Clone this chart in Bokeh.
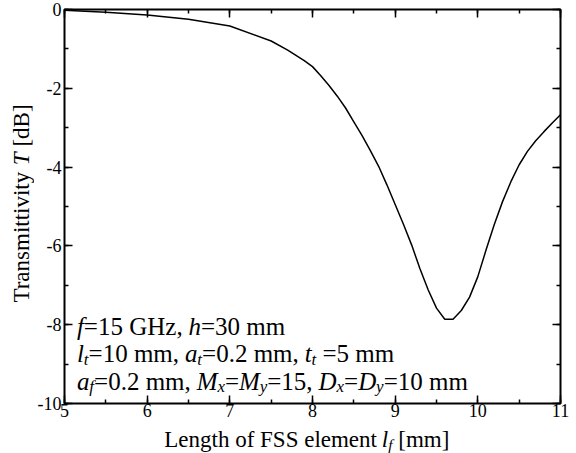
import math
from bokeh.plotting import figure
from bokeh.layouts import row, column
from bokeh.models import (Range1d, LinearAxis, SingleIntervalTicker, Label,
                          CustomJSTickFormatter)
from bokeh.embed import file_html
from bokeh.resources import INLINE

# ---- data ----
lf_mm = [5.0, 5.5, 6.0, 6.5, 7.0, 7.5, 7.7, 7.9, 8.0, 8.1, 8.2, 8.3, 8.4, 8.5,
         8.6, 8.7, 8.8, 8.9, 9.0, 9.1, 9.2, 9.3, 9.4, 9.5, 9.6, 9.7, 9.8, 9.9,
         10.0, 10.1, 10.2, 10.3, 10.4, 10.5, 10.6, 10.7, 10.8, 10.9, 11.0]
T_dB = [-0.02, -0.07, -0.14, -0.25, -0.42, -0.80, -1.03, -1.30, -1.45, -1.68,
        -1.93, -2.20, -2.50, -2.85, -3.20, -3.58, -3.98, -4.45, -4.95, -5.45,
        -5.98, -6.58, -7.12, -7.58, -7.86, -7.86, -7.64, -7.30, -6.78, -6.10,
        -5.45, -4.87, -4.37, -3.94, -3.60, -3.33, -3.10, -2.88, -2.67]

x_ticks = [5, 6, 7, 8, 9, 10, 11]
y_ticks = [-10, -8, -6, -4, -2, 0]

FONT = "Liberation Serif"

# ---- layout geometry (pixels) ----
TOTAL_W, TOTAL_H = 576, 453
YLAB_W = 34                     # strip left of the main figure (y label)
MAIN_W = TOTAL_W - YLAB_W
MAIN_H = 423
XLAB_H = TOTAL_H - MAIN_H       # strip below the main figure (x label)
BL, BR, BT = 28, 16, 9
BB = MAIN_H - BT - 394
FW, FH = MAIN_W - BL - BR, MAIN_H - BT - BB
X0, X1, Y0, Y1 = 5, 11, -10, 0
PXX = FW / (X1 - X0)
PYY = FH / (Y1 - Y0)

p = figure(width=MAIN_W, height=MAIN_H, x_range=Range1d(X0, X1),
           y_range=Range1d(Y0, Y1), output_backend="svg",
           toolbar_location=None, min_border_left=BL, min_border_right=BR,
           min_border_top=BT, min_border_bottom=BB,
           background_fill_color="white", border_fill_color="white")
p.grid.visible = False
p.outline_line_color = "black"
p.outline_line_width = 2

p.line(lf_mm, T_dB, line_color="black", line_width=1.5)

PLAIN = "return tick.toString()"


def style_axis(ax, labels=True):
    ax.axis_line_color = None
    ax.major_tick_in = 8
    ax.major_tick_out = 0
    ax.minor_tick_in = 4
    ax.minor_tick_out = 0
    ax.major_tick_line_width = 1.5
    ax.minor_tick_line_width = 1.5
    ax.major_tick_line_color = "black"
    ax.minor_tick_line_color = "black"
    if labels:
        ax.formatter = CustomJSTickFormatter(code=PLAIN)
        ax.major_label_text_font = FONT
        ax.major_label_text_font_size = "18px"
        ax.major_label_text_color = "black"
        ax.major_label_standoff = 0
    else:
        ax.formatter = CustomJSTickFormatter(code="return ''")
        ax.major_label_standoff = 0
        ax.major_label_text_font_size = "1px"


xb = p.xaxis[0]
xb.ticker = SingleIntervalTicker(interval=1, num_minor_ticks=2)
style_axis(xb)
yl = p.yaxis[0]
yl.ticker = SingleIntervalTicker(interval=2, num_minor_ticks=2)
style_axis(yl)
yl.major_label_standoff = 3

top = LinearAxis(ticker=SingleIntervalTicker(interval=1, num_minor_ticks=2))
style_axis(top, labels=False)
p.add_layout(top, "above")
right = LinearAxis(ticker=SingleIntervalTicker(interval=2, num_minor_ticks=2))
style_axis(right, labels=False)
p.add_layout(right, "right")

# ---- rich text helpers (Times metrics) ----
ROMAN = {' ': 250, '=': 564, '.': 250, ',': 250, '[': 333, ']': 333, '-': 333,
         'G': 722, 'H': 722, 'z': 444, 'm': 778, 'L': 611, 'e': 444, 'n': 500,
         'g': 500, 't': 278, 'h': 500, 'o': 500, 'f': 333, 'F': 556, 'S': 556,
         'l': 278, 'T': 611, 'r': 333, 'a': 444, 's': 389, 'i': 278, 'v': 500,
         'y': 500, 'd': 500, 'B': 667}
for d in "0123456789":
    ROMAN[d] = 500
ITALIC = {'f': 278, 'h': 500, 'l': 278, 't': 278, 'a': 500, 'x': 444,
          'y': 444, 'M': 833, 'D': 722, 'T': 556, ' ': 250}
SUB = 0.68


def seg_width(s, italic, size):
    table = ITALIC if italic else ROMAN
    return sum(table.get(c, 500) for c in s) * size / 1000.0


def total_width(segments, size):
    return sum(seg_width(t, it, size * SUB if sb else size)
               for t, it, sb in segments)


def rich_line(fig, segments, x, y, size, sx=1.0, sy=1.0, angle=0.0,
              baseline="alphabetic"):
    """Draw text made of (text, italic, subscript) pieces; sx, sy = px per unit."""
    pos = 0.0
    for text, italic, sub in segments:
        fs = size * SUB if sub else size
        shift = size * 0.22 if sub else 0.0
        body = text.lstrip(" ")
        pos += seg_width(text[:len(text) - len(body)], italic, fs)
        if angle == 0.0:
            lx, ly = x + pos / sx, y - shift / sy
        else:
            lx, ly = x + shift / sx, y + pos / sy
        fig.add_layout(Label(x=lx, y=ly, text=body.rstrip(" "), text_font=FONT,
                             text_font_size=f"{fs:.1f}px",
                             text_font_style="italic" if italic else "normal",
                             text_color="black", text_align="left",
                             text_baseline=baseline, angle=angle))
        pos += seg_width(body, italic, fs)


# annotation block inside the plot
ANN = 25
lines = [
    [("f", True, False), ("=15 GHz, ", False, False), ("h", True, False),
     ("=30 mm", False, False)],
    [("l", True, False), ("t", True, True), ("=10 mm, ", False, False),
     ("a", True, False), ("t", True, True), ("=0.2 mm, ", False, False),
     ("t", True, False), ("t", True, True), (" =5 mm", False, False)],
    [("a", True, False), ("f", True, True), ("=0.2 mm, ", False, False),
     ("M", True, False), ("x", True, True), ("=", False, False),
     ("M", True, False), ("y", True, True), ("=15, ", False, False),
     ("D", True, False), ("x", True, True), ("=", False, False),
     ("D", True, False), ("y", True, True), ("=10 mm", False, False)],
]
baselines = [-8.05, -8.74, -9.44]
for segs, yb in zip(lines, baselines):
    rich_line(p, segs, 5.15, yb, ANN, PXX, PYY)


def label_strip(w, h, x_range=None):
    f = figure(width=w, height=h,
               x_range=x_range if x_range is not None else Range1d(0, w),
               y_range=Range1d(0, h), output_backend="svg",
               toolbar_location=None, x_axis_location=None,
               y_axis_location=None, min_border_left=0, min_border_right=0,
               min_border_top=0, min_border_bottom=0,
               background_fill_color="white", border_fill_color="white",
               outline_line_color=None)
    f.grid.visible = False
    return f


AX = 23
# x axis label strip (below the main figure; its frame lines up with the plot)
fx = label_strip(MAIN_W, XLAB_H, x_range=p.x_range)
xlab = [("Length of FSS element ", False, False), ("l", True, False),
        ("f", True, True), (" [mm]", False, False)]
wx = total_width(xlab, AX)
x_center = 7.93
rich_line(fx, xlab, x_center - (wx / 2) / PXX, XLAB_H - 16, AX, PXX, 1.0)

# y axis label strip (left of the main figure)
fy = label_strip(YLAB_W, TOTAL_H)
ylab = [("Transmittivity ", False, False), ("T", True, False),
        (" [dB]", False, False)]
wy = total_width(ylab, AX)
y_center = TOTAL_H - 203
rich_line(fy, ylab, YLAB_W - 0.5, y_center - wy / 2, AX, angle=math.pi / 2,
          baseline="bottom")

layout = row(fy, column(p, fx, spacing=0), spacing=0)
open("out.html", "w").write(file_html(layout, INLINE))
